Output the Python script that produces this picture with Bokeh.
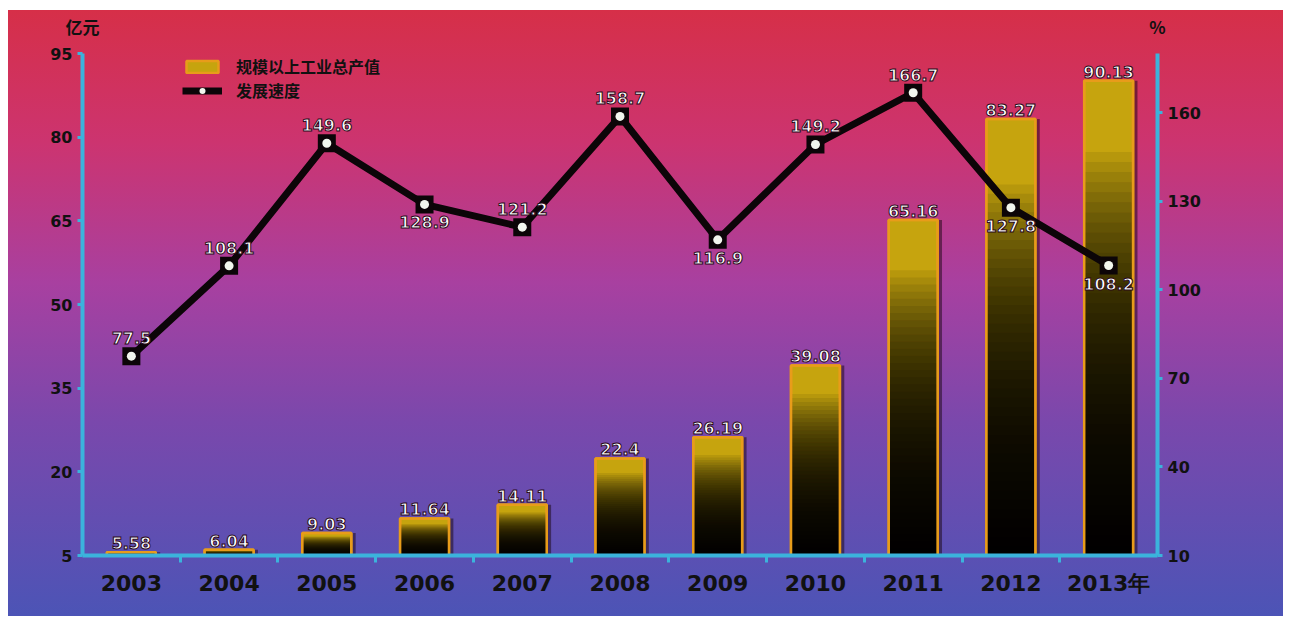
from bokeh.plotting import figure
from bokeh.models import (Range1d, LinearAxis, CategoricalAxis, FixedTicker, ColumnDataSource,
                          Legend, LegendItem)
from bokeh.transform import dodge
from bokeh.core.properties import value
from bokeh.embed import file_html
from bokeh.resources import INLINE

# ---------------- data ----------------
years = ["2003", "2004", "2005", "2006", "2007", "2008", "2009", "2010", "2011", "2012", "2013年"]
output_value = [5.58, 6.04, 9.03, 11.64, 14.11, 22.4, 26.19, 39.08, 65.16, 83.27, 90.13]   # 亿元
output_text = ["5.58", "6.04", "9.03", "11.64", "14.11", "22.4", "26.19", "39.08", "65.16", "83.27", "90.13"]
growth_rate = [77.5, 108.1, 149.6, 128.9, 121.2, 158.7, 116.9, 149.2, 166.7, 127.8, 108.2]  # %
growth_text = ["77.5", "108.1", "149.6", "128.9", "121.2", "158.7", "116.9", "149.2", "166.7", "127.8", "108.2"]
growth_label_side = ["above", "above", "above", "below", "above", "above", "below", "above", "above", "below", "below"]
left_ticks = [5, 20, 35, 50, 65, 80, 95]
right_ticks = [10, 40, 70, 100, 130, 160]
left_unit = "亿元"
right_unit = "%"
series_bar = "规模以上工业总产值"
series_line = "发展速度"

# ---------------- styles ----------------
AXIS = "#3bb3dc"
GOLD = "#c6a40e"
EDGE = "#e89c1a"
BASE = 5

p = figure(width=1275, height=606, x_range=years, y_range=Range1d(5, 95),
           output_backend="svg", toolbar_location=None, x_axis_location=None,
           min_border_left=74, min_border_right=126, min_border_top=40, min_border_bottom=61)
p.x_range.range_padding = 0
p.extra_y_ranges = {"pct": Range1d(10, 180)}

p.styles = {"background": "linear-gradient(to bottom, #d62f48 0%, #cc3470 22%, #a840a0 45%, #7a48ac 68%, #4c54b6 100%)",
            "margin-left": "8px", "margin-top": "10px"}
p.border_fill_alpha = 0
p.background_fill_alpha = 0
p.outline_line_color = None
p.grid.visible = False

# ---- bars ----
src = ColumnDataSource(dict(year=years, val=output_value, txt=output_text,
                            base=[BASE] * len(years)))
p.vbar(x=dodge("year", 0.045, range=p.x_range), top="val", bottom="base", width=0.5, source=src,
       fill_color="#1a0510", fill_alpha=0.5, line_color=None)
bar_r = p.vbar(x="year", top="val", bottom="base", width=0.5, source=src,
               fill_color=GOLD, line_color=EDGE, line_width=2.5)

# dark gradient towards the bar bottom: stacked translucent layers
N = 40
gx, gt = [], []
for yr, v in zip(years, output_value):
    h = v - BASE
    for k in range(1, N + 1):
        gx.append(yr)
        gt.append(BASE + h * 0.85 * k / N)
p.vbar(x=gx, bottom=BASE, top=gt, width=0.5, fill_color="#000000", fill_alpha=0.08, line_color=None)
p.vbar(x="year", top="val", bottom="base", width=0.5, source=src,
       fill_color=None, line_color=EDGE, line_width=2.5)

p.text(x="year", y="val", text="txt", source=src, y_offset=-3,
       text_align="center", text_baseline="bottom", text_color="#ffffff",
       text_font=value("DejaVu Sans"), text_font_style="bold", text_font_size="16px",
       text_outline_color="#2a0818")

# ---- line ----
lsrc = ColumnDataSource(dict(year=years, rate=growth_rate, txt=growth_text))
line_r = p.line(x="year", y="rate", source=lsrc, y_range_name="pct",
                line_color="#0c0508", line_width=7, line_join="round")
sq_r = p.scatter(x="year", y="rate", source=lsrc, y_range_name="pct", marker="square",
                 size=18, fill_color="#0c0508", line_color=None)
ci_r = p.scatter(x="year", y="rate", source=lsrc, y_range_name="pct", marker="circle",
                 size=9, fill_color="#f2f6ee", line_color=None)

up = dict(year=[], rate=[], txt=[])
dn = dict(year=[], rate=[], txt=[])
for yr, r, t, s in zip(years, growth_rate, growth_text, growth_label_side):
    d = up if s == "above" else dn
    d["year"].append(yr); d["rate"].append(r); d["txt"].append(t)
lab_style = dict(text_align="center", text_color="#ffffff", text_font=value("DejaVu Sans"),
                 text_font_style="bold", text_font_size="16px", text_outline_color="#2a0818",
                 y_range_name="pct")
p.text(x="year", y="rate", text="txt", source=ColumnDataSource(up), y_offset=-12,
       text_baseline="bottom", **lab_style)
p.text(x="year", y="rate", text="txt", source=ColumnDataSource(dn), y_offset=12,
       text_baseline="top", **lab_style)

# ---- axes ----
def style_y(ax, ticks):
    ax.ticker = FixedTicker(ticks=ticks)
    ax.axis_line_color = AXIS
    ax.axis_line_width = 4
    ax.major_tick_line_color = AXIS
    ax.major_tick_line_width = 3
    ax.major_tick_out = 5
    ax.major_tick_in = 0
    ax.minor_tick_line_color = None
    ax.major_label_text_font = "DejaVu Sans"
    ax.major_label_text_font_style = "bold"
    ax.major_label_text_font_size = "16px"
    ax.major_label_text_color = "#111111"
    ax.major_label_standoff = 5

style_y(p.yaxis[0], left_ticks)
raxis = LinearAxis(y_range_name="pct")
style_y(raxis, right_ticks)
p.add_layout(raxis, "right")

# boundary ticks between the year categories (synthetic coordinates 1..10)
tick_axis = LinearAxis(ticker=FixedTicker(ticks=list(range(1, len(years)))))
tick_axis.axis_line_color = AXIS
tick_axis.axis_line_width = 4
tick_axis.major_tick_line_color = AXIS
tick_axis.major_tick_line_width = 3
tick_axis.major_tick_out = 7
tick_axis.major_tick_in = 0
tick_axis.minor_tick_line_color = None
tick_axis.major_label_text_font_size = "1px"
tick_axis.major_label_text_color = None
tick_axis.major_label_standoff = 0
p.add_layout(tick_axis, "below")

cat_axis = CategoricalAxis()
cat_axis.axis_line_color = None
cat_axis.major_tick_line_color = None
cat_axis.minor_tick_line_color = None
cat_axis.major_label_text_font = "DejaVu Sans"
cat_axis.major_label_text_font_style = "bold"
cat_axis.major_label_text_font_size = "22px"
cat_axis.major_label_text_color = "#111111"
cat_axis.major_label_standoff = 2
p.add_layout(cat_axis, "below")

# ---- axis unit titles: a label-only axis above the frame, at both frame edges ----
unit_axis = LinearAxis(ticker=FixedTicker(ticks=[0, len(years)]),
                       major_label_overrides={0: left_unit, len(years): right_unit})
unit_axis.axis_line_color = None
unit_axis.major_tick_line_color = None
unit_axis.minor_tick_line_color = None
unit_axis.major_label_text_font = "Noto Sans CJK SC"
unit_axis.major_label_text_font_style = "bold"
unit_axis.major_label_text_font_size = "17px"
unit_axis.major_label_text_color = "#111111"
unit_axis.major_label_standoff = 9
p.add_layout(unit_axis, "above")

# ---- legend ----
legend = Legend(items=[LegendItem(label=series_bar, renderers=[bar_r]),
                       LegendItem(label=series_line, renderers=[line_r, sq_r, ci_r])],
                location=(100, 453), orientation="vertical",
                glyph_width=40, glyph_height=15, label_standoff=14, spacing=0, padding=0,
                label_text_font="Noto Sans CJK SC", label_text_font_style="bold",
                label_text_font_size="16px", label_text_color="#111111",
                background_fill_alpha=0, border_line_color=None)
p.add_layout(legend)

open("out.html", "w").write(file_html(p, INLINE))
